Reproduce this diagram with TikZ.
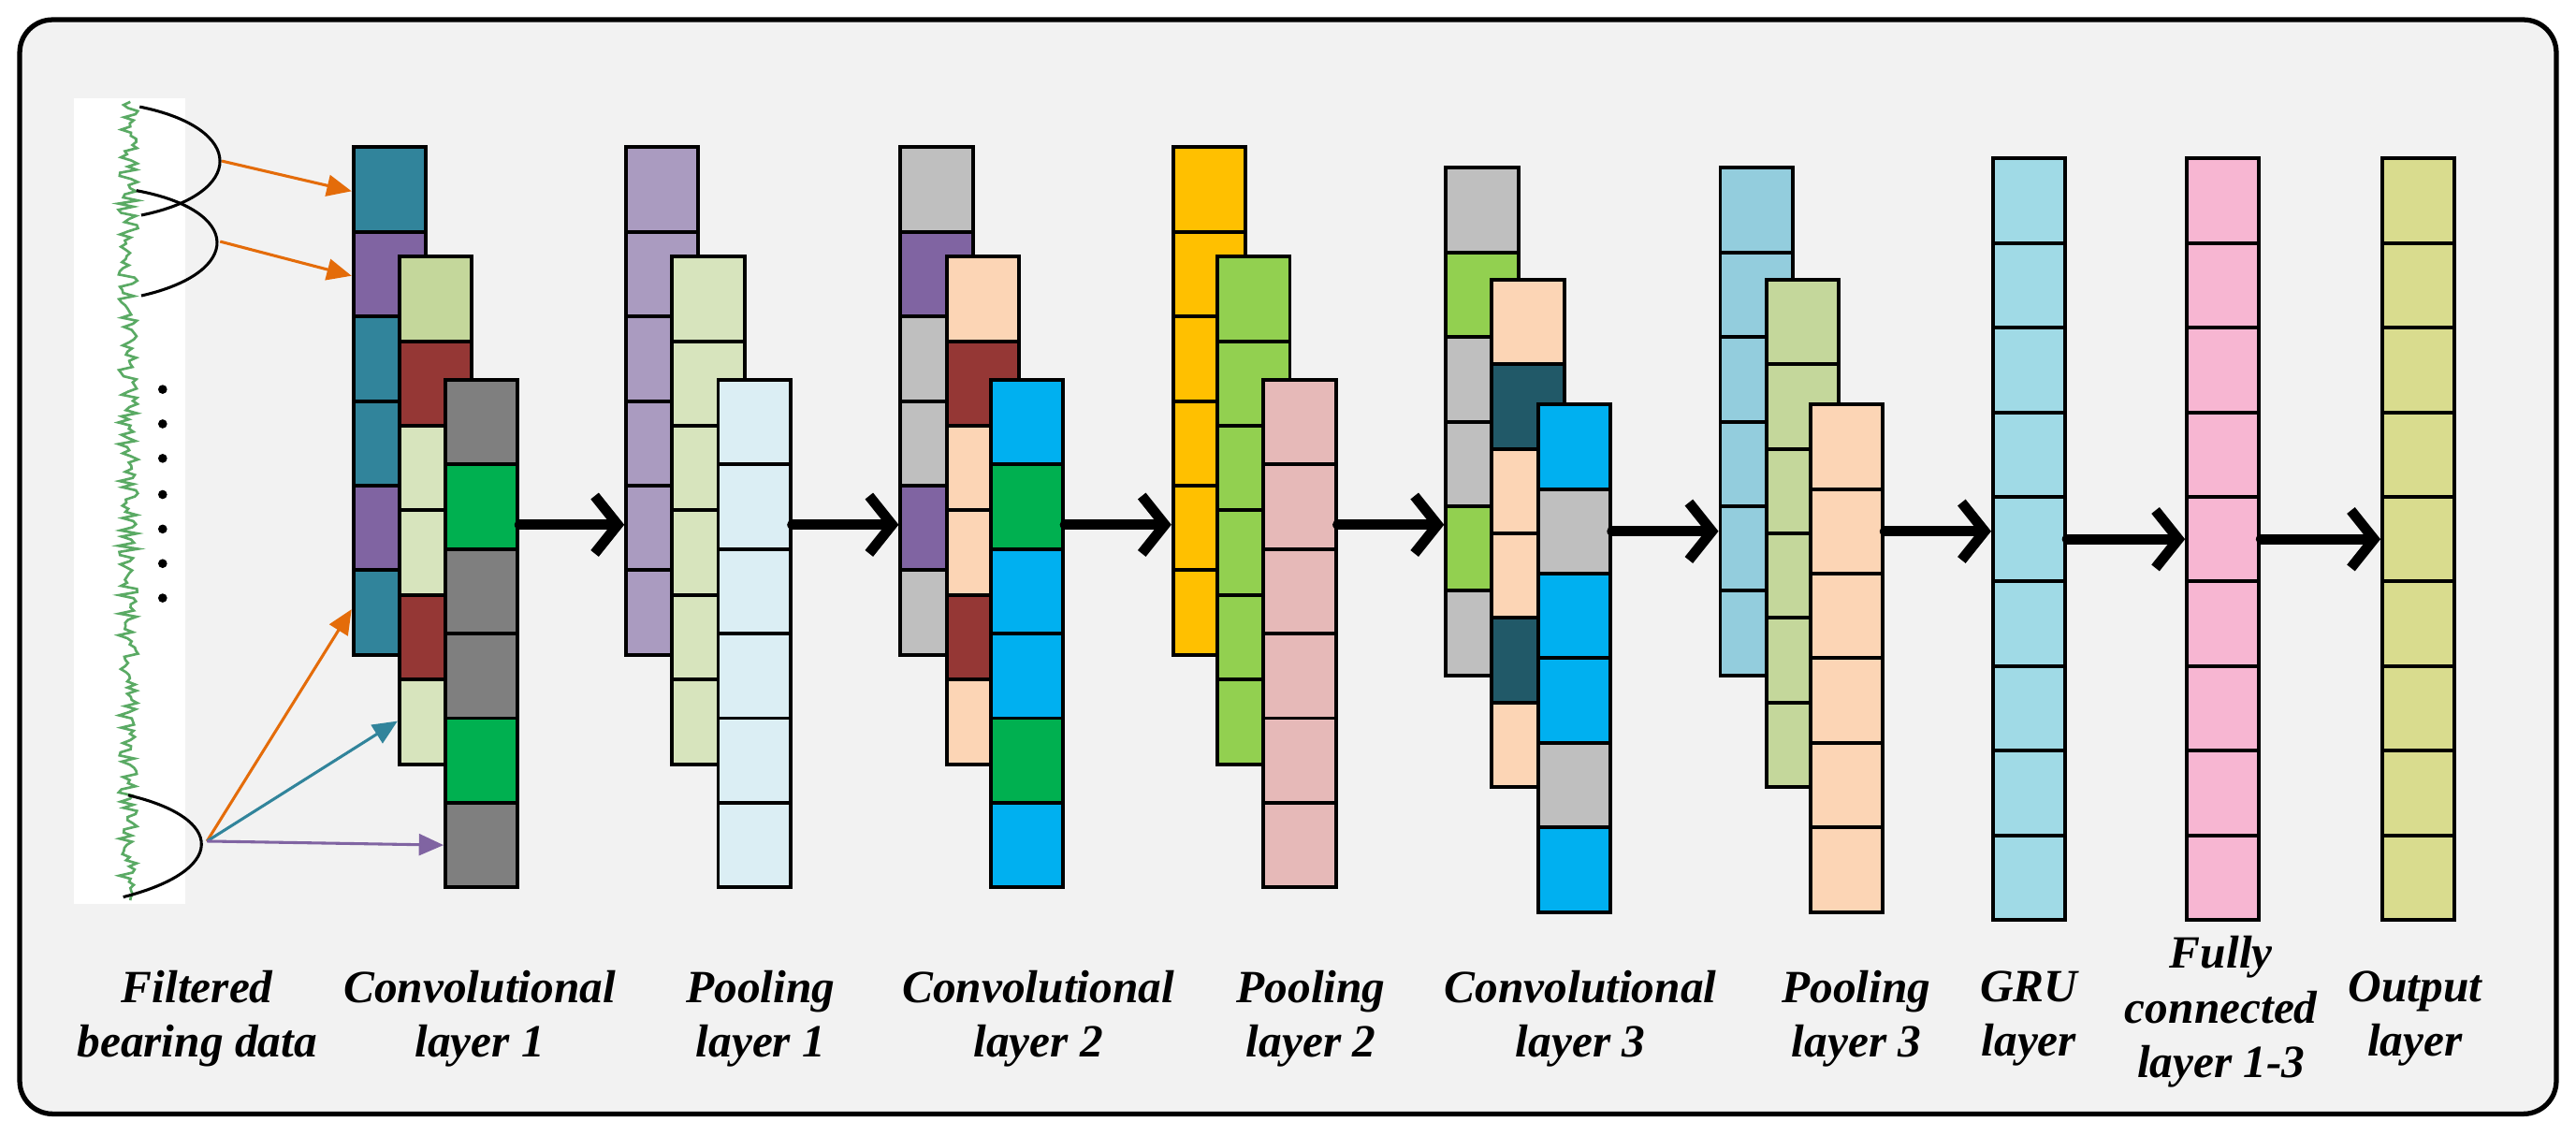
\documentclass[tikz,border=0pt]{standalone}
\usepackage{fontspec}
\setmainfont{Liberation Serif}
\usetikzlibrary{arrows.meta,positioning,calc}

\definecolor{bgray}{HTML}{F2F2F2}
\definecolor{kteal}{HTML}{31849B}
\definecolor{kpurple}{HTML}{8064A2}
\definecolor{kbrown}{HTML}{953735}
\definecolor{kolive}{HTML}{C4D79B}
\definecolor{kpale}{HTML}{D7E4BD}
\definecolor{kgray}{HTML}{7F7F7F}
\definecolor{kgreen}{HTML}{00B050}
\definecolor{klilac}{HTML}{AA9BC0}
\definecolor{kice}{HTML}{DBEEF4}
\definecolor{ksilver}{HTML}{BFBFBF}
\definecolor{kpeach}{HTML}{FCD5B5}
\definecolor{kcyan}{HTML}{00B0F0}
\definecolor{kyellow}{HTML}{FFC000}
\definecolor{klime}{HTML}{92D050}
\definecolor{krose}{HTML}{E6B9B8}
\definecolor{kdark}{HTML}{215968}
\definecolor{ksky}{HTML}{93CDDD}
\definecolor{kgru}{HTML}{A0DAE6}
\definecolor{kpink}{HTML}{F7B6D2}
\definecolor{kkhaki}{HTML}{D9DC8E}
\definecolor{korange}{HTML}{E46C0A}
\definecolor{ksignal}{HTML}{5AAA64}

\newcommand{\layercol}[4]{%
  \foreach \c [count=\i from 0] in {#4}
    \node[cell, fill=\c] (#1\i) at (#2,{#3+\i*51.5}) {};%
}

\begin{document}
\begin{tikzpicture}[
  x=0.2mm, y=-0.2mm,
  cell/.style={draw, line width=0.45mm, anchor=north west, inner sep=0pt,
    minimum width=8.8mm, minimum height=10.3mm},
  flow/.style={-{Straight Barb[length=2.8mm, width=7mm]}, line width=1.25mm,
    line cap=round, line join=round},
  tap/.style={-{Triangle[length=3mm, width=2.6mm]}, line width=0.35mm},
  lab/.style={font=\fontsize{16}{19}\selectfont\bfseries\itshape, align=center}
]
\useasboundingbox (0,0) rectangle (1568,691);

% frame
\draw[line width=0.6mm, fill=bgray, rounded corners=4mm] (12,12) rectangle (1556,678);

% filtered signal
\fill[white] (45,60) rectangle (113,550);
\pgfmathsetseed{7}
\draw[ksignal, line width=0.3mm] plot[domain=62:548, samples=260, variable=\t] ({78+6*rand}, \t);
\foreach \y in {237,258,279,301,322,343,364}
  \fill (99,\y) circle (0.55mm);

% receptive windows
\coordinate (tip1) at (135,98);
\coordinate (tip2) at (134,147);
\coordinate (tip3) at (126,512);
\draw[line width=0.35mm] (85,65) .. controls (150,78) and (150,118) .. (86,131);
\draw[line width=0.35mm] (83,116) .. controls (148,128) and (148,166) .. (86,180);
\draw[line width=0.35mm] (78,484) .. controls (138,498) and (138,530) .. (75,546);

% layers
\layercol{cva}{214}{88.5}{kteal,kpurple,kteal,kteal,kpurple,kteal}
\layercol{cvb}{242}{155}{kolive,kbrown,kpale,kpale,kbrown,kpale}
\layercol{cvc}{270}{230}{kgray,kgreen,kgray,kgray,kgreen,kgray}
\layercol{pla}{380}{88.5}{klilac,klilac,klilac,klilac,klilac,klilac}
\layercol{plb}{408}{155}{kpale,kpale,kpale,kpale,kpale,kpale}
\layercol{plc}{436}{230}{kice,kice,kice,kice,kice,kice}
\layercol{cwa}{547}{88.5}{ksilver,kpurple,ksilver,ksilver,kpurple,ksilver}
\layercol{cwb}{575}{155}{kpeach,kbrown,kpeach,kpeach,kbrown,kpeach}
\layercol{cwc}{602}{230}{kcyan,kgreen,kcyan,kcyan,kgreen,kcyan}
\layercol{pma}{713}{88.5}{kyellow,kyellow,kyellow,kyellow,kyellow,kyellow}
\layercol{pmb}{740}{155}{klime,klime,klime,klime,klime,klime}
\layercol{pmc}{768}{230}{krose,krose,krose,krose,krose,krose}
\layercol{cxa}{879}{101}{ksilver,klime,ksilver,ksilver,klime,ksilver}
\layercol{cxb}{907}{169}{kpeach,kdark,kpeach,kpeach,kdark,kpeach}
\layercol{cxc}{935}{245}{kcyan,ksilver,kcyan,kcyan,ksilver,kcyan}
\layercol{pna}{1046}{101}{ksky,ksky,ksky,ksky,ksky,ksky}
\layercol{pnb}{1074}{169}{kolive,kolive,kolive,kolive,kolive,kolive}
\layercol{pnc}{1101}{245}{kpeach,kpeach,kpeach,kpeach,kpeach,kpeach}
\layercol{gru}{1212}{95.3}{kgru,kgru,kgru,kgru,kgru,kgru,kgru,kgru,kgru}
\layercol{fcl}{1330}{95.3}{kpink,kpink,kpink,kpink,kpink,kpink,kpink,kpink,kpink}
\layercol{out}{1449}{95.3}{kkhaki,kkhaki,kkhaki,kkhaki,kkhaki,kkhaki,kkhaki,kkhaki,kkhaki}

% taps from the signal
\draw[tap, korange] (tip1) -- ($(cva0.west)+(0,1)$);
\draw[tap, korange] (tip2) -- ($(cva1.west)+(0,1)$);
\draw[tap, korange] (tip3) -- ($(cva5.west)+(0,-2)$);
\draw[tap, kteal] (tip3) -- ($(cvb5.west)+(0,-0.5)$);
\draw[tap, kpurple] (tip3) -- (cvc5.west);

% flow between layers
\draw[flow] ($(cvc1.east)+(0,11)$) -- ($(cvc1.east -| pla4.west)+(0,11)$);
\draw[flow] ($(plc1.east)+(0,11)$) -- ($(plc1.east -| cwa4.west)+(0,11)$);
\draw[flow] ($(cwc1.east)+(0,11)$) -- ($(cwc1.east -| pma4.west)+(0,11)$);
\draw[flow] ($(pmc1.east)+(0,11)$) -- ($(pmc1.east -| cxa4.west)+(0,11)$);
\draw[flow] (cxc1.east) -- (cxc1.east -| pna4.west);
\draw[flow] (cxc1.east -| pnc1.east) -- (cxc1.east -| gru4.west);
\draw[flow] (gru4.east) -- (fcl4.west);
\draw[flow] (fcl4.east) -- (out4.west);

% captions
\node[lab] (tsig) at (120,620) {Filtered\\bearing data};
\node[lab] (tcv) at (292,620) {Convolutional\\layer 1};
\node[lab] (tpl) at (463,620) {Pooling\\layer 1};
\node[lab] (tcw) at (632,620) {Convolutional\\layer 2};
\node[lab] (tpm) at (798,620) {Pooling\\layer 2};
\node[lab] (tcx) at (962,620) {Convolutional\\layer 3};
\node[lab] (tpn) at (1130,620) {Pooling\\layer 3};
\node[lab] (tgru) at (1235,620) {GRU\\layer};
\node[lab] (tfcl) at (1352,616) {Fully\\connected\\layer 1-3};
\node[lab] (tout) at (1470,620) {Output\\layer};
\end{tikzpicture}
\end{document}
